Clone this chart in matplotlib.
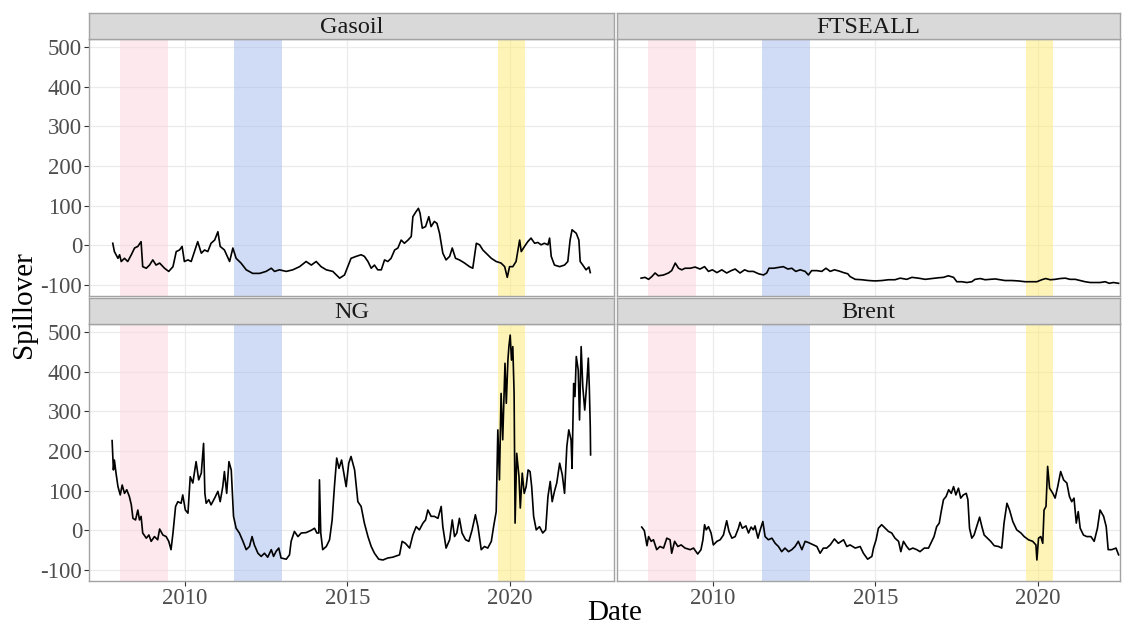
import numpy as np
import matplotlib
matplotlib.use("Agg")
import matplotlib.pyplot as plt

plt.rcParams['font.family'] = ['Liberation Serif', 'DejaVu Serif']
plt.rcParams['axes.unicode_minus'] = False

# === DATA (decimal years, spillover index) ===
gasoil_year = [2007.79, 2007.84, 2007.95, 2008.00, 2008.05, 2008.15, 2008.25, 2008.36, 2008.46, 2008.56,
               2008.66, 2008.71, 2008.82, 2008.92, 2009.02, 2009.12, 2009.23, 2009.38, 2009.51, 2009.64,
               2009.74, 2009.84, 2009.92, 2009.99, 2010.10, 2010.20, 2010.30, 2010.40, 2010.51, 2010.61,
               2010.71, 2010.81, 2010.92, 2011.02, 2011.09, 2011.22, 2011.38, 2011.48, 2011.58, 2011.73,
               2011.89, 2012.09, 2012.30, 2012.50, 2012.66, 2012.76, 2012.91, 2013.12, 2013.32, 2013.53,
               2013.73, 2013.89, 2014.04, 2014.19, 2014.35, 2014.55, 2014.76, 2014.91, 2015.01, 2015.11,
               2015.27, 2015.42, 2015.52, 2015.63, 2015.73, 2015.83, 2015.93, 2016.04, 2016.14, 2016.24,
               2016.34, 2016.45, 2016.55, 2016.65, 2016.75, 2016.86, 2016.96, 2017.01, 2017.11, 2017.18,
               2017.23, 2017.30, 2017.40, 2017.50, 2017.57, 2017.67, 2017.75, 2017.83, 2017.93, 2018.03,
               2018.14, 2018.22, 2018.32, 2018.44, 2018.60, 2018.75, 2018.85, 2018.96, 2019.06, 2019.16,
               2019.26, 2019.42, 2019.57, 2019.72, 2019.83, 2019.91, 2019.98, 2020.08, 2020.18, 2020.24,
               2020.29, 2020.34, 2020.44, 2020.54, 2020.64, 2020.75, 2020.85, 2020.95, 2021.05, 2021.16,
               2021.21, 2021.26, 2021.36, 2021.52, 2021.67, 2021.77, 2021.84, 2021.90, 2022.03, 2022.11,
               2022.15, 2022.23, 2022.33, 2022.42, 2022.46]
gasoil_value = [5, -16, -33, -24, -41, -33, -41, -24, -7, -3,
                9, -54, -58, -50, -37, -50, -45, -58, -66, -54,
                -16, -12, -3, -41, -37, -41, -16, 9, -20, -12,
                -16, 5, 13, 34, -3, -12, -41, -7, -33, -45,
                -62, -71, -71, -66, -58, -66, -62, -66, -62, -54,
                -41, -50, -41, -54, -62, -66, -83, -75, -54, -33,
                -28, -24, -28, -41, -58, -50, -62, -62, -37, -41,
                -33, -12, -7, 13, 5, 13, 22, 72, 85, 93,
                81, 43, 47, 72, 47, 60, 55, 30, -20, -37,
                -28, -7, -33, -37, -45, -54, -58, 5, 1, -12,
                -20, -33, -41, -45, -54, -81, -54, -54, -41, -12,
                13, -16, -3, 9, 18, 5, 7, 1, 5, 1,
                18, -28, -50, -54, -50, -41, 13, 39, 30, 13,
                -41, -50, -62, -55, -69]

ftse_year = [2007.80, 2007.92, 2008.03, 2008.13, 2008.23, 2008.33, 2008.49, 2008.64, 2008.74, 2008.85,
             2008.95, 2009.05, 2009.15, 2009.31, 2009.46, 2009.61, 2009.75, 2009.87, 2009.99, 2010.13,
             2010.28, 2010.43, 2010.57, 2010.69, 2010.84, 2010.98, 2011.10, 2011.25, 2011.41, 2011.56,
             2011.66, 2011.73, 2011.87, 2012.02, 2012.17, 2012.31, 2012.43, 2012.55, 2012.69, 2012.84,
             2012.94, 2013.04, 2013.20, 2013.35, 2013.48, 2013.61, 2013.74, 2013.88, 2014.02, 2014.15,
             2014.22, 2014.38, 2014.58, 2014.79, 2014.99, 2015.20, 2015.40, 2015.60, 2015.76, 2015.96,
             2016.12, 2016.32, 2016.53, 2016.73, 2016.94, 2017.09, 2017.24, 2017.40, 2017.50, 2017.65,
             2017.81, 2017.96, 2018.06, 2018.22, 2018.37, 2018.52, 2018.68, 2018.83, 2018.98, 2019.19,
             2019.39, 2019.60, 2019.80, 2019.96, 2020.11, 2020.23, 2020.37, 2020.52, 2020.67, 2020.83,
             2020.98, 2021.14, 2021.29, 2021.44, 2021.60, 2021.75, 2021.90, 2022.06, 2022.18, 2022.31,
             2022.47]
ftse_value = [-83, -81, -86, -79, -70, -77, -75, -70, -64, -45,
              -58, -62, -58, -58, -55, -60, -54, -66, -62, -69,
              -62, -70, -64, -60, -70, -62, -66, -66, -72, -75,
              -70, -58, -58, -56, -54, -60, -58, -66, -62, -66,
              -75, -64, -64, -66, -58, -66, -62, -65, -69, -72,
              -79, -86, -87, -89, -90, -89, -87, -87, -83, -86,
              -81, -83, -86, -84, -82, -81, -77, -81, -92, -92,
              -94, -92, -86, -84, -87, -86, -85, -87, -89, -89,
              -90, -92, -92, -92, -87, -84, -87, -86, -84, -83,
              -86, -86, -89, -92, -94, -94, -94, -92, -96, -94,
              -96]

ng_year = [2007.77, 2007.81, 2007.84, 2007.89, 2007.95, 2008.02, 2008.08, 2008.15, 2008.22, 2008.30,
           2008.36, 2008.41, 2008.49, 2008.56, 2008.61, 2008.66, 2008.71, 2008.82, 2008.90, 2008.97,
           2009.07, 2009.17, 2009.23, 2009.33, 2009.43, 2009.51, 2009.58, 2009.64, 2009.72, 2009.79,
           2009.89, 2009.94, 2010.02, 2010.10, 2010.17, 2010.25, 2010.35, 2010.43, 2010.51, 2010.58,
           2010.62, 2010.66, 2010.74, 2010.81, 2010.92, 2011.02, 2011.09, 2011.17, 2011.22, 2011.29,
           2011.36, 2011.43, 2011.50, 2011.58, 2011.68, 2011.79, 2011.89, 2011.99, 2012.07, 2012.14,
           2012.25, 2012.35, 2012.45, 2012.55, 2012.66, 2012.73, 2012.81, 2012.89, 2012.96, 2013.12,
           2013.22, 2013.27, 2013.37, 2013.48, 2013.58, 2013.73, 2013.89, 2013.99, 2014.06, 2014.12,
           2014.14, 2014.18, 2014.24, 2014.35, 2014.45, 2014.53, 2014.60, 2014.67, 2014.74, 2014.82,
           2014.89, 2014.96, 2015.04, 2015.11, 2015.22, 2015.32, 2015.42, 2015.52, 2015.63, 2015.73,
           2015.83, 2015.96, 2016.09, 2016.24, 2016.39, 2016.60, 2016.68, 2016.78, 2016.91, 2017.01,
           2017.11, 2017.21, 2017.32, 2017.40, 2017.47, 2017.57, 2017.67, 2017.78, 2017.88, 2017.93,
           2018.03, 2018.14, 2018.22, 2018.29, 2018.36, 2018.44, 2018.52, 2018.63, 2018.73, 2018.83,
           2018.93, 2019.01, 2019.11, 2019.21, 2019.31, 2019.42, 2019.49, 2019.57, 2019.62, 2019.67,
           2019.72, 2019.77, 2019.84, 2019.88, 2019.93, 2019.96, 2020.00, 2020.04, 2020.08, 2020.12,
           2020.15, 2020.20, 2020.27, 2020.31, 2020.37, 2020.43, 2020.49, 2020.55, 2020.61, 2020.66,
           2020.72, 2020.80, 2020.90, 2021.00, 2021.09, 2021.16, 2021.23, 2021.29, 2021.36, 2021.43,
           2021.52, 2021.60, 2021.67, 2021.74, 2021.80, 2021.87, 2021.90, 2021.95, 2021.99, 2022.03,
           2022.09, 2022.13, 2022.18, 2022.23, 2022.29, 2022.36, 2022.40, 2022.43, 2022.46, 2022.47]
ng_value = [226, 152, 177, 144, 110, 89, 114, 93, 102, 85,
            64, 30, 26, 51, 26, 35, -7, -20, -12, -28,
            -16, -24, 3, -12, -16, -28, -49, -7, 60, 72,
            68, 89, 51, 43, 135, 119, 173, 127, 144, 219,
            93, 68, 77, 64, 81, 98, 72, 110, 148, 93,
            173, 152, 35, 5, -7, -28, -49, -41, -16, -37,
            -58, -66, -58, -68, -49, -66, -53, -45, -70, -73,
            -62, -28, -3, -16, -7, -6, 0, 5, -7, -7,
            127, -7, -49, -41, -24, 26, 110, 182, 156, 177,
            144, 110, 169, 186, 152, 72, 60, 18, -16, -41,
            -58, -73, -75, -70, -68, -62, -28, -33, -45, -12,
            9, 1, 18, 26, 51, 35, 35, 30, 60, 9,
            -45, -24, 26, -16, -7, 30, -7, -24, -28, 1,
            39, 9, -49, -41, -45, -28, 9, 47, 253, 127,
            345, 228, 421, 320, 429, 463, 492, 429, 463, 345,
            18, 194, 135, 56, 144, 93, 110, 152, 148, 110,
            35, 1, 9, -7, 1, 85, 123, 72, 98, 119,
            169, 140, 93, 211, 253, 228, 156, 370, 337, 438,
            404, 278, 463, 362, 303, 379, 434, 362, 261, 190]

brent_year = [2007.82, 2007.90, 2007.98, 2008.03, 2008.11, 2008.18, 2008.28, 2008.38, 2008.49, 2008.59,
              2008.69, 2008.74, 2008.83, 2008.93, 2009.03, 2009.15, 2009.31, 2009.41, 2009.54, 2009.64,
              2009.70, 2009.75, 2009.80, 2009.87, 2009.95, 2010.02, 2010.13, 2010.23, 2010.33, 2010.43,
              2010.50, 2010.59, 2010.69, 2010.79, 2010.84, 2010.91, 2011.02, 2011.10, 2011.18, 2011.25,
              2011.30, 2011.39, 2011.46, 2011.54, 2011.61, 2011.71, 2011.82, 2011.92, 2012.02, 2012.12,
              2012.22, 2012.33, 2012.43, 2012.53, 2012.63, 2012.74, 2012.84, 2012.94, 2013.10, 2013.20,
              2013.30, 2013.40, 2013.50, 2013.61, 2013.74, 2013.86, 2014.02, 2014.12, 2014.22, 2014.38,
              2014.53, 2014.63, 2014.76, 2014.89, 2014.94, 2015.02, 2015.09, 2015.19, 2015.30, 2015.40,
              2015.50, 2015.60, 2015.71, 2015.78, 2015.86, 2015.96, 2016.04, 2016.15, 2016.27, 2016.37,
              2016.50, 2016.63, 2016.73, 2016.80, 2016.88, 2016.96, 2017.02, 2017.09, 2017.17, 2017.25,
              2017.33, 2017.40, 2017.47, 2017.55, 2017.62, 2017.70, 2017.79, 2017.84, 2017.89, 2017.96,
              2018.03, 2018.11, 2018.20, 2018.27, 2018.34, 2018.44, 2018.54, 2018.65, 2018.78, 2018.88,
              2018.95, 2019.04, 2019.12, 2019.22, 2019.34, 2019.47, 2019.57, 2019.70, 2019.83, 2019.93,
              2019.96, 2020.01, 2020.08, 2020.14, 2020.18, 2020.24, 2020.29, 2020.35, 2020.45, 2020.52,
              2020.60, 2020.69, 2020.78, 2020.88, 2020.96, 2021.03, 2021.10, 2021.17, 2021.23, 2021.29,
              2021.39, 2021.49, 2021.62, 2021.72, 2021.82, 2021.90, 2022.01, 2022.09, 2022.15, 2022.26,
              2022.39, 2022.47]
brent_value = [8, -1, -39, -16, -28, -24, -49, -41, -45, -20,
               -24, -58, -28, -41, -37, -45, -49, -45, -60, -49,
               -24, 14, 1, 9, -7, -37, -28, -24, -12, 24,
               -3, -20, -16, 5, 20, 5, 11, -7, 8, 1,
               11, -20, 1, 22, -16, -24, -20, -33, -41, -54,
               -45, -54, -49, -41, -28, -49, -28, -31, -37, -41,
               -58, -45, -45, -37, -22, -33, -24, -41, -37, -45,
               -41, -58, -73, -66, -45, -24, 5, 14, 5, -3,
               -7, -20, -28, -54, -28, -41, -49, -45, -49, -54,
               -45, -45, -28, -16, 9, 18, 47, 77, 85, 102,
               93, 110, 89, 106, 81, 89, 93, 77, 5, -20,
               -12, 9, 33, 9, -12, -20, -28, -39, -41, -45,
               18, 68, 51, 22, 1, -7, -16, -24, -28, -37,
               -75, -20, -16, -33, 51, 60, 161, 106, 93, 81,
               110, 148, 127, 119, 85, 72, 81, 18, 47, 5,
               -12, -16, -16, -28, 5, 51, 35, 9, -49, -49,
               -45, -62]

# facet order as drawn (left-to-right, top-to-bottom)
panel_names = ["Gasoil", "FTSEALL", "NG", "Brent"]
panel_years = [gasoil_year, ftse_year, ng_year, brent_year]
panel_values = [gasoil_value, ftse_value, ng_value, brent_value]

# shaded crisis periods
band_start = [2008.0, 2011.5, 2019.64]
band_end = [2009.5, 2013.0, 2020.47]
band_color = ["#FBD3DC", "#A3BAEC", "#FFEB70"]

y_ticks = [-100, 0, 100, 200, 300, 400, 500]
x_ticks = [2010, 2015, 2020]

# === LAYOUT (pixels) ===
W, H = 1134, 632
fig = plt.figure(figsize=(W / 100, H / 100), dpi=100)
fig.patch.set_facecolor("white")


def px_box(x0, y0, x1, y1):
    return [x0 / W, 1 - y1 / H, (x1 - x0) / W, (y1 - y0) / H]


cols = [(89, 614), (617, 1120)]
rows = [(39, 296), (324, 581)]
strip_rows = [(13, 39), (298, 324)]
x_left = 2007.06
px_per_year = 32.55
border_col = "#A3A3A3"

for i, name in enumerate(panel_names):
    r, c = divmod(i, 2)
    x0, x1 = cols[c]
    y0, y1 = rows[r]
    ax = fig.add_axes(px_box(x0, y0, x1, y1))
    ax.set_facecolor("white")
    ax.set_xlim(x_left, x_left + (x1 - x0) / px_per_year)
    ax.set_ylim(-128, 520)
    ax.set_xticks(x_ticks)
    ax.set_yticks(y_ticks)
    ax.grid(True, color="#EBEBEB", lw=0.9)
    ax.set_axisbelow(True)

    for s, e, col in zip(band_start, band_end, band_color):
        ax.axvspan(s, e, color=col, alpha=0.5, lw=0, zorder=1)

    ax.plot(panel_years[i], panel_values[i], color="black", lw=1.2, zorder=3)

    for sp in ax.spines.values():
        sp.set_color(border_col)
        sp.set_linewidth(1.0)

    ax.tick_params(axis="both", colors="#333333", labelcolor="#4D4D4D",
                   labelsize=16.5, length=3.5, width=0.8, pad=1.5)
    if c == 1:
        ax.tick_params(axis="y", left=False, labelleft=False)
    if r == 0:
        ax.tick_params(axis="x", bottom=False, labelbottom=False)

    # facet strip
    sy0, sy1 = strip_rows[r]
    sax = fig.add_axes(px_box(x0, sy0, x1, sy1))
    sax.set_facecolor("#D9D9D9")
    sax.set_xticks([])
    sax.set_yticks([])
    for sp in sax.spines.values():
        sp.set_color(border_col)
        sp.set_linewidth(1.0)
    sax.text(0.5, 0.45, name, transform=sax.transAxes, ha="center", va="center",
             fontsize=17.5, color="#1A1A1A")

fig.text(24 / W, 1 - 305 / H, "Spillover", rotation=90, ha="center", va="center",
         fontsize=21, color="black")
fig.text(615 / W, 1 - 613 / H, "Date", ha="center", va="center",
         fontsize=21, color="black")

fig.savefig("out.png", dpi=100, facecolor="white")
